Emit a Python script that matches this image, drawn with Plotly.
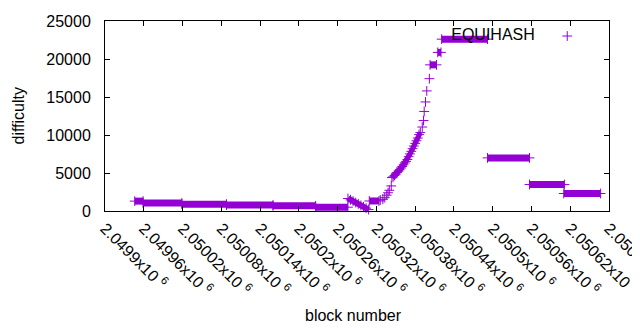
import plotly.graph_objects as go

# ---- data ----
# constant-difficulty runs: first block, last block, difficulty
seg_start = [2049946, 2049959, 2050019, 2050088, 2050160, 2050226, 2050309,
             2050403, 2050415, 2050421, 2050492, 2050557, 2050610]
seg_end   = [2049959, 2050019, 2050088, 2050160, 2050226, 2050276, 2050324,
             2050413, 2050420, 2050492, 2050557, 2050611, 2050667]
seg_value = [1300, 1050, 900, 780, 680, 500, 1320,
             19230, 20870, 22610, 6990, 3480, 2300]

# the drop after the low run
drop_block = [2050276, 2050280, 2050284, 2050288, 2050292, 2050296, 2050300,
              2050304, 2050308]
drop_value = [1650, 1480, 1300, 1110, 930, 740, 560, 370, 190]

# the steady climb (dense band)
band_block = [2050344, 2050348, 2050352, 2050356, 2050360, 2050364, 2050368,
              2050372, 2050376, 2050380, 2050384, 2050388]
band_value = [4400, 4680, 5050, 5430, 5850, 6330, 6780, 7510, 8200, 8900,
              9600, 10320]

# single points on the climb
pt_block = [2050326, 2050330, 2050333, 2050336, 2050338, 2050340, 2050343,
            2050346, 2050350, 2050354, 2050358, 2050362, 2050366, 2050370,
            2050374, 2050378, 2050382, 2050386,
            2050391, 2050393, 2050394, 2050396, 2050398, 2050402]
pt_value = [1450, 1550, 1750, 2080, 2400, 2730, 3300,
            4500, 4850, 5250, 5650, 6080, 6530, 7150,
            7850, 8550, 9240, 10050,
            11050, 11900, 13100, 14350, 15800, 17410]

x_ticks = [2049900, 2049960, 2050020, 2050080, 2050140, 2050200, 2050260,
           2050320, 2050380, 2050440, 2050500, 2050560, 2050620, 2050680]
x_tick_labels = ["2.0499x10 <sup>6</sup>", "2.04996x10 <sup>6</sup>",
                 "2.05002x10 <sup>6</sup>", "2.05008x10 <sup>6</sup>",
                 "2.05014x10 <sup>6</sup>", "2.0502x10 <sup>6</sup>",
                 "2.05026x10 <sup>6</sup>", "2.05032x10 <sup>6</sup>",
                 "2.05038x10 <sup>6</sup>", "2.05044x10 <sup>6</sup>",
                 "2.0505x10 <sup>6</sup>", "2.05056x10 <sup>6</sup>",
                 "2.05062x10 <sup>6</sup>", "2.05068x10 <sup>6</sup>"]
y_ticks = [0, 5000, 10000, 15000, 20000, 25000]
y_tick_labels = ["0", "5000", "10000", "15000", "20000", "25000"]

COLOR = "#9400D3"
FONT = "Liberation Sans, Arial, sans-serif"
FS = 16
MARK = dict(symbol="cross-thin", size=7, line=dict(color=COLOR, width=1))

seg_x, seg_y = [], []
for s, e, v in zip(seg_start, seg_end, seg_value):
    seg_x += [s, e, None]
    seg_y += [v, v, None]

fig = go.Figure()
fig.add_trace(go.Scatter(
    x=seg_x, y=seg_y, mode="lines+markers", showlegend=False,
    line=dict(color=COLOR, width=7), marker=MARK,
    cliponaxis=False, hoverinfo="skip"))
fig.add_trace(go.Scatter(
    x=drop_block, y=drop_value, mode="lines+markers", showlegend=False,
    line=dict(color=COLOR, width=6), marker=MARK, cliponaxis=False))
fig.add_trace(go.Scatter(
    x=band_block, y=band_value, mode="lines+markers", showlegend=False,
    line=dict(color=COLOR, width=5), marker=MARK, cliponaxis=False))
fig.add_trace(go.Scatter(
    x=pt_block, y=pt_value, mode="markers", name=" ", showlegend=True,
    marker=MARK, cliponaxis=False))

axis_common = dict(showline=True, linecolor="black", linewidth=1, mirror="ticks",
                   ticks="inside", ticklen=5, tickcolor="black", showgrid=False,
                   zeroline=False, automargin=False,
                   tickfont=dict(family=FONT, size=FS, color="black"))

fig.update_xaxes(range=[2049900, 2050680], tickvals=x_ticks, ticktext=x_tick_labels,
                 tickangle=45, ticklabelstandoff=1, ticklabeloverflow="allow",
                 **axis_common)
fig.update_yaxes(range=[0, 25000], tickvals=y_ticks, ticktext=y_tick_labels,
                 ticklabelstandoff=10, **axis_common)

# the page adds an 8px body margin, so the figure is 8px smaller
fig.update_layout(
    width=632, height=322,
    margin=dict(l=97, r=31, t=11, b=119, pad=0),
    paper_bgcolor="white", plot_bgcolor="white",
    font=dict(family=FONT, size=FS, color="black"),
    legend=dict(title=dict(text="EQUIHASH\u00a0", side="left",
                           font=dict(family=FONT, size=FS, color="black")),
                x=0.683, y=1.01, xanchor="left", yanchor="top",
                bgcolor="rgba(0,0,0,0)", borderwidth=0),
    annotations=[
        dict(text="block number", xref="paper", yref="paper", x=0.494, y=-0.552,
             xanchor="center", yanchor="middle", showarrow=False,
             font=dict(family=FONT, size=FS, color="black")),
        dict(text="difficulty", xref="paper", yref="paper", x=-0.1736, y=0.5,
             xanchor="center", yanchor="middle", textangle=-90, showarrow=False,
             font=dict(family=FONT, size=FS, color="black")),
    ],
)

fig.write_html("out.html")
